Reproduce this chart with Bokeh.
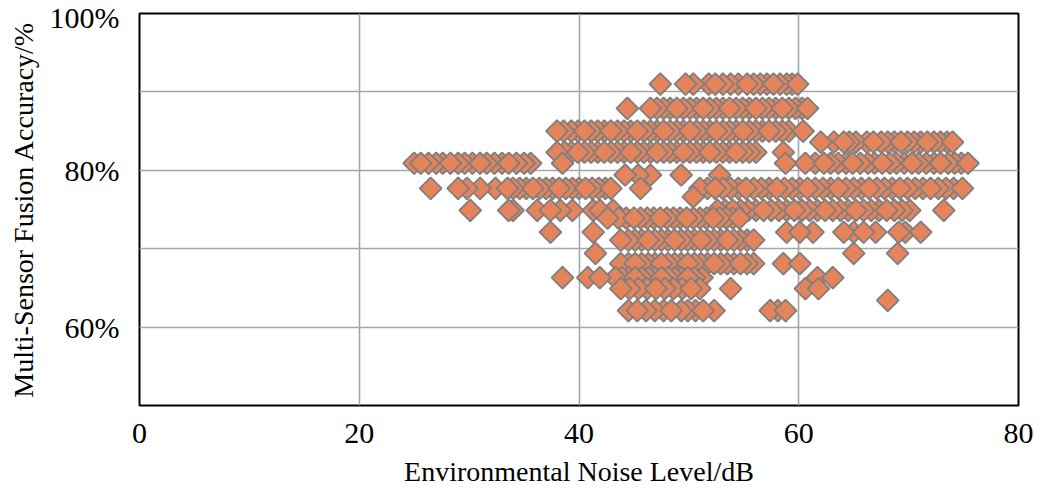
import numpy as np
from bokeh.plotting import figure
from bokeh.models import Range1d, FixedTicker, PrintfTickFormatter, ColumnDataSource
from bokeh.embed import file_html
from bokeh.resources import INLINE

# ---------------- data ----------------
x_ticks = [0, 20, 40, 60, 80]
y_ticks = [60, 80, 100]
x_grid = [20, 40, 60]
y_grid = [60, 70, 80, 90]

x_title = "Environmental Noise Level/dB"
y_title = "Multi-Sensor Fusion Accuracy/%"

# accuracy levels (%) and the noise levels (dB) of the points at each level
levels = [91.0, 87.9, 85.0, 83.6, 82.3, 80.9, 79.4, 77.7, 76.6, 74.9,
          73.9, 72.1, 71.1, 69.4, 68.1, 66.3, 64.9, 63.4, 62.1]

x91 = [47.4, 49.7, 50.4, 51.8, 52.4, 53.1, 53.8, 54.5, 55.3, 55.9, 56.5, 57.1,
       57.7, 58.3, 58.9, 59.4, 59.9]
x88 = [44.4, 46.5, 47.1, 47.7, 48.3, 48.9, 49.5, 50.1, 50.7, 51.3, 51.9, 52.5,
       53.1, 53.7, 54.3, 54.9, 55.5, 56.1, 56.7, 57.3, 57.9, 58.5, 59.1, 59.7,
       60.3, 60.8]
x85 = [38.0, 38.6, 39.3, 39.9, 40.5, 41.1, 41.7, 42.3, 42.9, 43.5, 44.1, 44.7,
       45.3, 45.9, 46.5, 47.1, 47.7, 48.3, 48.9, 49.5, 50.1, 50.7, 51.3, 51.9,
       52.5, 53.1, 53.7, 54.3, 54.9, 55.5, 56.1, 56.7, 57.3, 57.9, 58.5, 59.1,
       60.4]
x84 = [62.0, 63.2, 64.1, 64.6, 65.2, 66.2, 66.8, 67.5, 68.1, 68.7, 69.3, 69.9,
       70.5, 71.1, 71.7, 72.3, 72.9, 73.5, 74.0]
x82 = [38.0, 38.7, 39.3, 39.9, 40.5, 41.1, 41.7, 42.3, 42.9, 43.5, 44.1, 44.7,
       45.3, 45.9, 46.5, 47.1, 47.7, 48.3, 48.9, 49.5, 50.1, 50.7, 51.3, 51.9,
       52.5, 53.1, 53.7, 54.3, 54.9, 55.5, 56.1, 58.6]
x81 = [25.0, 25.6, 26.3, 27.0, 27.6, 28.3, 29.0, 29.6, 30.3, 31.0, 31.6, 32.3,
       33.0, 33.6, 34.3, 35.0, 35.6, 38.5, 58.8, 60.6, 61.5, 62.3, 62.9, 63.6,
       64.3, 64.9, 65.6, 66.3, 66.9, 67.6, 68.3, 68.9, 69.6, 70.3, 70.9, 71.6,
       72.3, 72.9, 73.6, 74.2, 74.8, 75.4]
x79 = [44.2, 45.4, 46.5, 49.3, 52.8]
x78 = [26.5, 29.0, 29.8, 31.0, 32.4, 33.5, 34.0, 34.6, 35.2, 35.8, 36.4, 37.0,
       37.6, 38.2, 38.8, 39.4, 40.0, 40.6, 41.2, 41.8, 42.4, 42.9, 45.6, 51.0,
       51.7, 52.4, 53.1, 53.8, 54.5, 55.2, 55.9, 56.6, 57.3, 58.0, 58.7, 59.4,
       60.1, 60.8, 61.5, 62.2, 62.9, 63.6, 64.3, 65.0, 65.7, 66.4, 67.1, 67.8,
       68.5, 69.2, 69.9, 70.6, 71.3, 72.0, 72.7, 73.4, 74.1, 74.9]
x77 = [50.4]
x75 = [30.1, 33.6, 34.0, 36.2, 37.4, 38.3, 39.4, 41.3, 41.9, 43.1, 52.6, 53.3,
       54.0, 54.7, 55.4, 56.1, 56.8, 57.5, 58.2, 58.9, 59.6, 60.3, 61.0, 61.7,
       62.4, 63.1, 63.8, 64.5, 65.2, 65.9, 66.6, 67.3, 68.0, 68.7, 69.4, 70.1,
       73.2]
x74 = [42.6, 43.6, 44.3, 45.0, 45.6, 46.2, 46.8, 47.4, 48.0, 48.6, 49.2, 49.8,
       50.4, 51.0, 51.6, 52.2, 52.8, 53.4, 54.0, 54.6]
x72 = [37.4, 41.3, 58.9, 60.1, 61.3, 64.1, 65.0, 65.9, 67.0, 69.1, 69.7, 71.1]
x71 = [43.8, 44.5, 45.1, 45.7, 46.3, 46.9, 47.5, 48.1, 48.7, 49.3, 49.9, 50.5,
       51.1, 51.7, 52.3, 52.9, 53.5, 54.1, 54.7, 55.3, 55.9]
x69 = [41.5, 65.0, 69.0]
x68 = [43.8, 44.5, 45.1, 45.7, 46.3, 46.9, 47.5, 48.1, 48.7, 49.3, 49.9, 50.5,
       51.1, 51.7, 52.3, 52.9, 53.5, 54.1, 54.7, 55.3, 55.9, 58.6, 60.1]
x66 = [38.5, 40.8, 41.9, 43.3, 43.9, 44.5, 45.1, 45.7, 46.3, 46.9, 47.5, 48.1,
       48.7, 49.3, 49.9, 50.5, 51.2, 61.7, 63.1]
x65 = [43.8, 44.6, 45.4, 46.2, 47.0, 47.8, 48.6, 49.4, 50.2, 51.0, 53.8, 60.6,
       61.8]
x63 = [68.1]
x62 = [44.5, 45.3, 46.1, 46.9, 47.7, 48.4, 49.3, 49.9, 50.6, 51.3, 52.3, 57.4,
       58.1, 58.8]

rows = [x91, x88, x85, x84, x82, x81, x79, x78, x77, x75,
        x74, x72, x71, x69, x68, x66, x65, x63, x62]

# ---------------- build the source (draw order only) ----------------
xs, ys = [], []
for lev, row in zip(levels, rows):
    r = sorted(row, reverse=True)
    first = [v for i, v in enumerate(r) if i % 4 != 0]
    last = [v for i, v in enumerate(r) if i % 4 == 0]
    for v in first + last:
        xs.append(v)
        ys.append(lev)
src = ColumnDataSource(dict(x=xs, y=ys))

# ---------------- figure ----------------
FONT = "Liberation Serif"
p = figure(width=1040, height=489, output_backend="svg", toolbar_location=None,
           x_range=Range1d(0, 80), y_range=Range1d(50, 100),
           min_border_left=139, min_border_right=22, min_border_top=13,
           min_border_bottom=84)
p.background_fill_color = "white"
p.border_fill_color = "white"
p.outline_line_color = "black"
p.outline_line_width = 2
p.outline_line_alpha = 1.0

p.xaxis.ticker = FixedTicker(ticks=x_ticks)
p.yaxis.ticker = FixedTicker(ticks=y_ticks)
p.yaxis.formatter = PrintfTickFormatter(format="%d%%")
p.xgrid.ticker = FixedTicker(ticks=x_grid)
p.ygrid.ticker = FixedTicker(ticks=y_grid)
for g in (p.xgrid, p.ygrid):
    g.grid_line_color = "#A6A6A6"
    g.grid_line_width = 1.6

for ax in (p.xaxis, p.yaxis):
    ax.axis_line_color = None
    ax.major_tick_line_color = None
    ax.minor_tick_line_color = None
    ax.major_tick_out = 0
    ax.major_tick_in = 0
    ax.major_label_text_font = FONT
    ax.major_label_text_font_size = "30px"
    ax.major_label_text_color = "black"
    ax.axis_label_text_font = FONT
    ax.axis_label_text_font_size = "28px"
    ax.axis_label_text_font_style = "normal"
    ax.axis_label_text_color = "black"

p.xaxis.axis_label = x_title
p.yaxis.axis_label = y_title
p.xaxis.major_label_standoff = 18
p.yaxis.major_label_standoff = 20
p.xaxis.axis_label_standoff = 10
p.yaxis.axis_label_standoff = 8

p.scatter("x", "y", source=src, marker="square", angle=np.pi / 4, size=15.5,
          fill_color="#E5835B", line_color="#7F7F7F", line_width=1.8)

open("out.html", "w").write(file_html(p, INLINE))
